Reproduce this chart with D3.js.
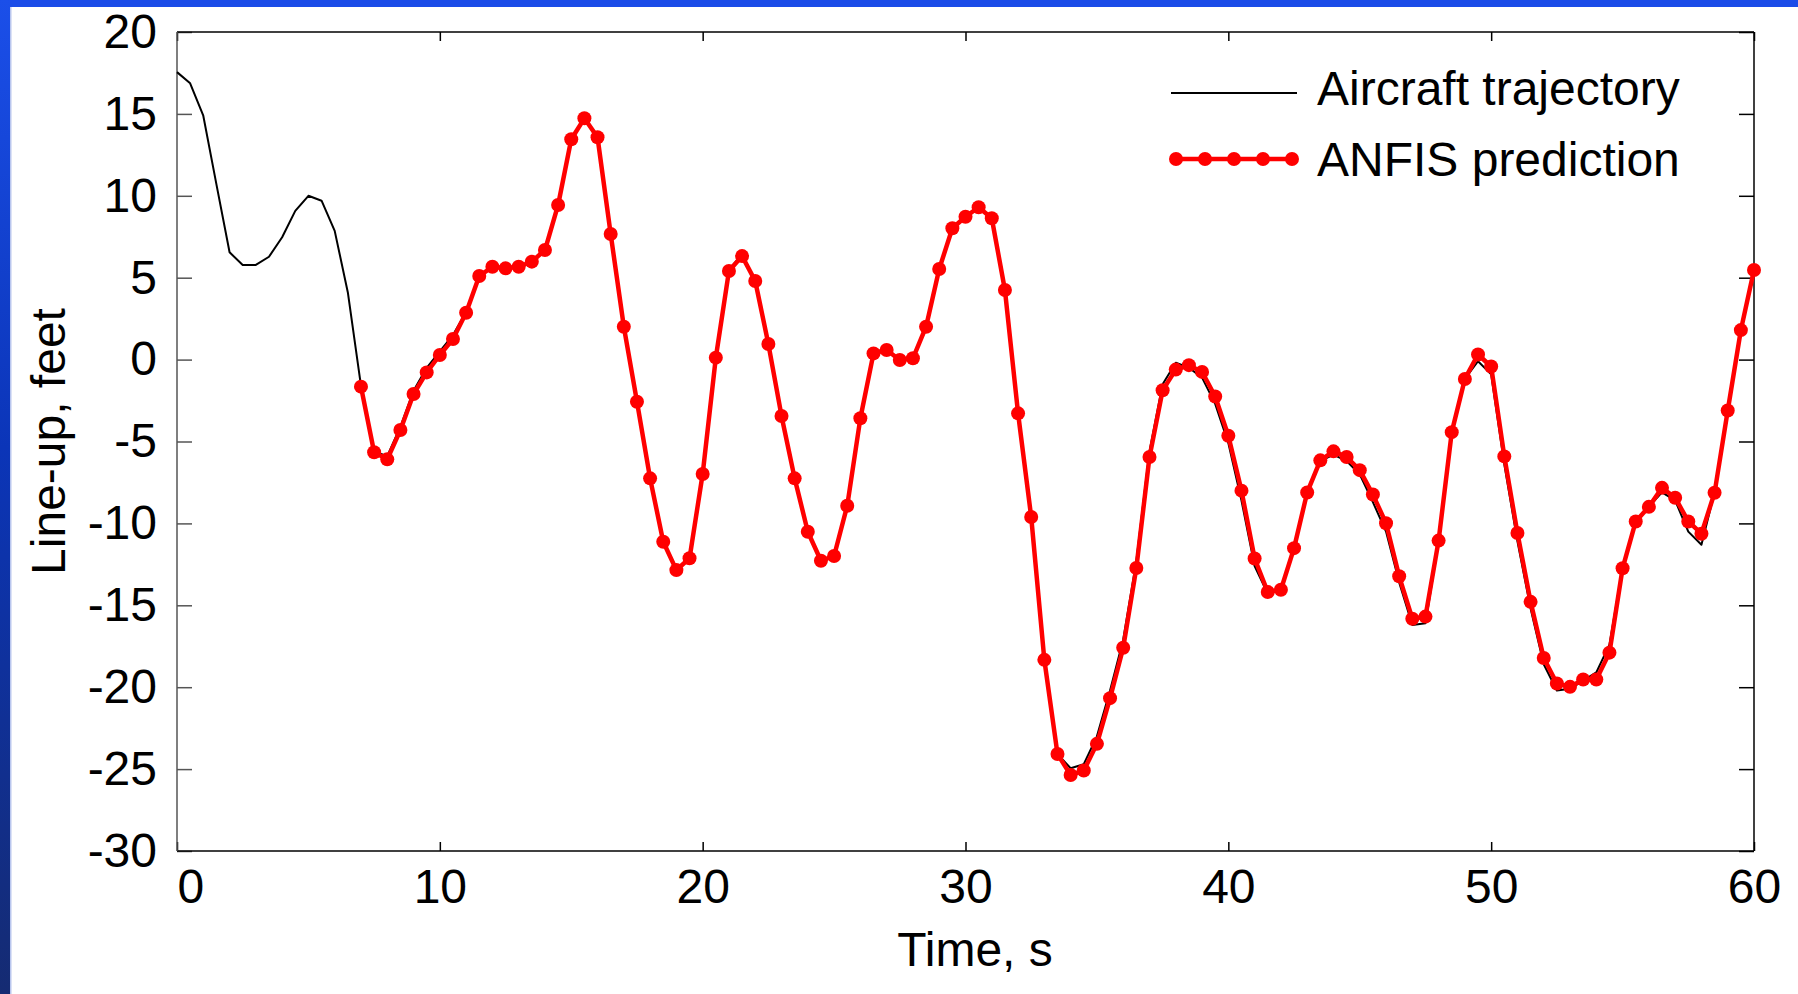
<!DOCTYPE html>
<meta charset="utf-8">

<!-- Load d3.js -->
<script src="https://d3js.org/d3.v7.min.js"></script>

<style>
body { margin: 0; background: #ffffff; }
text { font-family: "Liberation Sans", Arial, sans-serif; }
</style>

<div id="my_dataviz"></div>

<script>

// sampling of both series: one value every 0.5 s
var sampleStep = 0.5;
var trajectoryStart = 0;
var predictionStart = 7;

// Aircraft trajectory, t = 0 ... 60 s
var trajectory = [
  17.55, 16.87, 14.89, 10.70, 6.55, 5.78, 5.78, 6.28, 7.47, 9.08,
  10.00, 9.70, 7.86, 4.10, -1.60, -5.60, -5.90, -4.10, -1.90, -0.50,
  0.50, 1.50, 2.90, 5.10, 5.67, 5.57, 5.67, 5.98, 6.69, 9.44,
  13.45, 14.73, 13.57, 7.67, 2.01, -2.57, -7.25, -11.12, -12.75, -12.13,
  -6.98, 0.12, 5.50, 6.40, 4.80, 0.95, -3.44, -7.25, -10.51, -12.28,
  -11.99, -8.92, -3.58, 0.45, 0.65, -0.02, 0.08, 2.01, 5.53, 8.02,
  8.72, 9.30, 8.63, 4.25, -3.28, -9.61, -18.33, -24.08, -24.95, -24.70,
  -23.00, -20.20, -17.10, -12.30, -5.60, -1.50, -0.19, -0.50, -1.10, -2.70,
  -5.10, -8.60, -12.60, -14.30, -14.00, -11.50, -8.11, -6.20, -5.80, -6.20,
  -7.00, -8.70, -10.50, -13.60, -16.20, -16.10, -11.10, -4.43, -1.18, -0.10,
  -0.90, -6.40, -11.10, -15.20, -18.60, -20.20, -20.10, -19.60, -19.10, -17.40,
  -12.70, -9.90, -8.98, -8.10, -8.60, -10.50, -11.30, -8.10, -3.11, 1.80,
  5.47
];

// ANFIS prediction, t = 7 ... 60 s
var prediction = [
  -1.65, -5.66, -6.09, -4.30, -2.10, -0.78,
  0.28, 1.26, 2.86, 5.10, 5.67, 5.57, 5.67, 5.98, 6.69, 9.44,
  13.45, 14.73, 13.57, 7.67, 2.01, -2.57, -7.25, -11.12, -12.85, -12.13,
  -6.98, 0.12, 5.41, 6.32, 4.80, 0.95, -3.44, -7.25, -10.51, -12.28,
  -11.99, -8.92, -3.58, 0.38, 0.59, -0.02, 0.08, 2.01, 5.53, 8.02,
  8.72, 9.30, 8.63, 4.25, -3.28, -9.61, -18.33, -24.08, -25.36, -25.09,
  -23.46, -20.67, -17.59, -12.72, -5.95, -1.87, -0.61, -0.34, -0.75, -2.25,
  -4.65, -8.00, -12.14, -14.19, -14.05, -11.51, -8.11, -6.15, -5.60, -5.95,
  -6.75, -8.24, -9.99, -13.23, -15.82, -15.69, -11.05, -4.43, -1.18, 0.31,
  -0.42, -5.91, -10.59, -14.79, -18.22, -19.77, -19.98, -19.53, -19.53, -17.89,
  -12.74, -9.88, -8.99, -7.83, -8.43, -9.88, -10.63, -8.13, -3.11, 1.80,
  5.47
];

var xTicks = [0, 10, 20, 30, 40, 50, 60];
var yTicks = [-30, -25, -20, -15, -10, -5, 0, 5, 10, 15, 20];
var seriesNames = ["Aircraft trajectory", "ANFIS prediction"];
var xTitle = "Time, s";
var yTitle = "Line-up, feet";

// set the dimensions and margins of the graph
var W = 1798, H = 994;
var margin = {top: 32, right: 44, bottom: 143, left: 177},
    width = W - margin.left - margin.right,
    height = H - margin.top - margin.bottom;

var root = d3.select("#my_dataviz")
  .append("svg")
    .attr("width", W)
    .attr("height", H);

// blue slide border (top strip + left gradient strip)
var defs = root.append("defs");
var grad = defs.append("linearGradient")
    .attr("id", "sideGrad")
    .attr("x1", 0).attr("y1", 0).attr("x2", 0).attr("y2", 1);
grad.append("stop").attr("offset", "0%").attr("stop-color", "#1b4fe9");
grad.append("stop").attr("offset", "45%").attr("stop-color", "#0b35b8");
grad.append("stop").attr("offset", "100%").attr("stop-color", "#152b72");

root.append("rect").attr("x", 0).attr("y", 0).attr("width", W).attr("height", 7).attr("fill", "#1b4ce8");
root.append("rect").attr("x", 0).attr("y", 0).attr("width", 10).attr("height", H).attr("fill", "url(#sideGrad)");
root.append("rect").attr("x", 10).attr("y", 7).attr("width", 1.5).attr("height", H - 7).attr("fill", "#b9c6ee");

var svg = root.append("g")
    .attr("transform", "translate(" + margin.left + "," + margin.top + ")");

// scales
var x = d3.scaleLinear().domain([0, 60]).range([0, width]);
var y = d3.scaleLinear().domain([-30, 20]).range([height, 0]);

var trajData = trajectory.map(function(v, i) { return {t: trajectoryStart + i * sampleStep, v: v}; });
var predData = prediction.map(function(v, i) { return {t: predictionStart + i * sampleStep, v: v}; });

// plain hyphen minus like the original, not the unicode minus
var plain = function(d) { return String(d); };

// axes (ticks inward, mirrored on all sides)
var xAxis = svg.append("g")
  .attr("transform", "translate(0," + height + ")")
  .call(d3.axisBottom(x).tickValues(xTicks).tickFormat(plain).tickSize(-9).tickSizeOuter(0).tickPadding(18));
svg.append("g")
  .call(d3.axisTop(x).tickValues(xTicks).tickSize(-9).tickSizeOuter(0).tickFormat(""));
var yAxis = svg.append("g")
  .call(d3.axisLeft(y).tickValues(yTicks).tickFormat(plain).tickSize(-15).tickSizeOuter(0).tickPadding(20));
svg.append("g")
  .attr("transform", "translate(" + width + ",0)")
  .call(d3.axisRight(y).tickValues(yTicks).tickSize(-15).tickSizeOuter(0).tickFormat(""));

svg.selectAll(".domain").remove();
svg.selectAll(".tick line").attr("stroke", "#000").attr("stroke-width", 1.5);
yAxis.selectAll(".tick line").attr("stroke", "#555");
svg.selectAll(".tick text")
  .attr("fill", "#000")
  .style("font-size", "48px")
  .style("font-family", "'Liberation Sans', Arial, sans-serif");
// the "0" label sits to the right of the corner
xAxis.selectAll(".tick text").filter(function(d) { return d === 0; })
  .attr("text-anchor", "start").attr("x", 0);

// frame
svg.append("line").attr("x1", 0).attr("x2", width).attr("y1", 0).attr("y2", 0).attr("stroke", "#000").attr("stroke-width", 1.5);
svg.append("line").attr("x1", 0).attr("x2", width).attr("y1", height).attr("y2", height).attr("stroke", "#000").attr("stroke-width", 1.5);
svg.append("line").attr("x1", width).attr("x2", width).attr("y1", 0).attr("y2", height).attr("stroke", "#000").attr("stroke-width", 1.5);
svg.append("line").attr("x1", 0).attr("x2", 0).attr("y1", 0).attr("y2", height).attr("stroke", "#555").attr("stroke-width", 1.5);

// lines
var line = d3.line()
  .x(function(d) { return x(d.t); })
  .y(function(d) { return y(d.v); });

svg.append("path")
  .datum(trajData)
  .attr("fill", "none")
  .attr("stroke", "#000")
  .attr("stroke-width", 2)
  .attr("stroke-linejoin", "round")
  .attr("d", line);

svg.append("path")
  .datum(predData)
  .attr("fill", "none")
  .attr("stroke", "#ff0000")
  .attr("stroke-width", 4.5)
  .attr("stroke-linejoin", "round")
  .attr("d", line);

svg.selectAll("circle.pred")
  .data(predData)
  .enter()
  .append("circle")
    .attr("class", "pred")
    .attr("cx", function(d) { return x(d.t); })
    .attr("cy", function(d) { return y(d.v); })
    .attr("r", 7)
    .attr("fill", "#ff0000");

// axis titles
svg.append("text")
  .attr("x", 798)
  .attr("y", 934)
  .attr("text-anchor", "middle")
  .style("font-size", "48px")
  .text(xTitle);

svg.append("text")
  .attr("transform", "translate(-112," + (height / 2) + ") rotate(-90)")
  .attr("text-anchor", "middle")
  .style("font-size", "48px")
  .text(yTitle);

// legend
var lg = root.append("g");
lg.append("line")
  .attr("x1", 1171).attr("x2", 1297).attr("y1", 93).attr("y2", 93)
  .attr("stroke", "#000").attr("stroke-width", 2);
lg.append("line")
  .attr("x1", 1176).attr("x2", 1292).attr("y1", 159).attr("y2", 159)
  .attr("stroke", "#ff0000").attr("stroke-width", 4.5);
lg.selectAll("circle")
  .data([0, 1, 2, 3, 4])
  .enter()
  .append("circle")
    .attr("cx", function(d) { return 1176 + d * 29; })
    .attr("cy", 159)
    .attr("r", 7)
    .attr("fill", "#ff0000");
lg.selectAll("text")
  .data(seriesNames)
  .enter()
  .append("text")
    .attr("x", 1317)
    .attr("y", function(d, i) { return 105 + i * 71; })
    .style("font-size", "48px")
    .text(function(d) { return d; });

</script>
